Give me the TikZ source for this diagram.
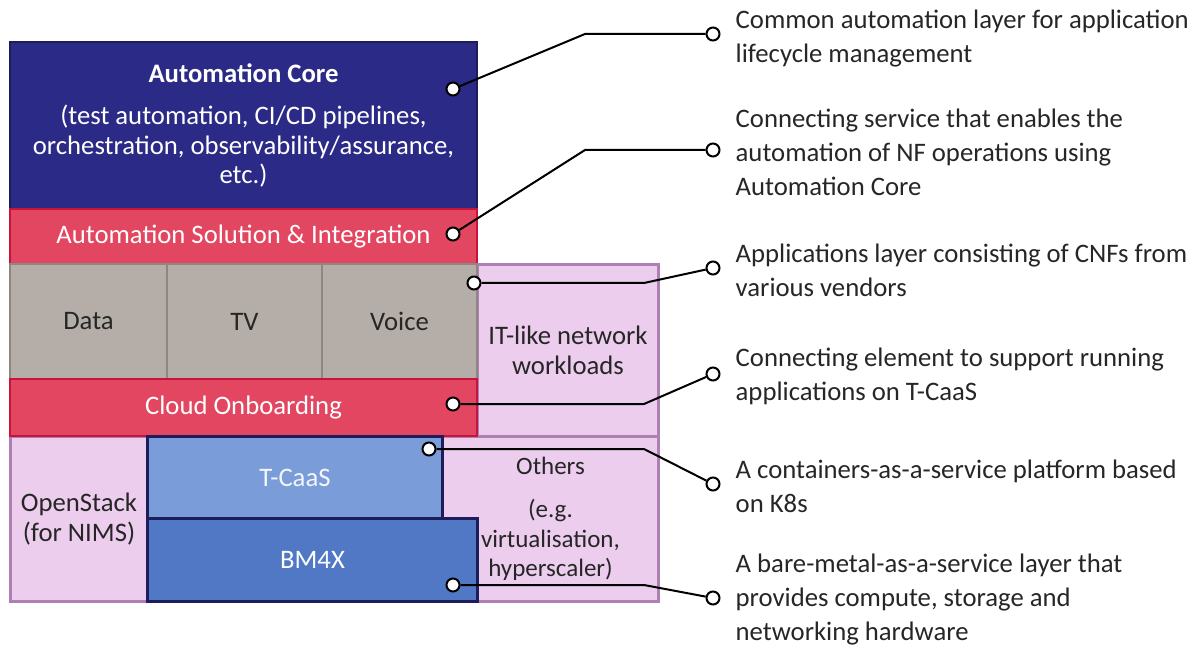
\documentclass[tikz,border=0pt]{standalone}
\usepackage{fontspec}
\setmainfont{Carlito}
\usepackage{tikz}
\usetikzlibrary{%
  positioning
 ,calc
}
\definecolor{corefill}{HTML}{2B2A86}
\definecolor{coreline}{HTML}{1E1D5C}
\definecolor{redfill}{HTML}{E34660}
\definecolor{redline}{HTML}{C8143A}
\definecolor{appfill}{HTML}{B5AEA8}
\definecolor{appline}{HTML}{8E8680}
\definecolor{wlfill}{HTML}{ECCDEE}
\definecolor{wlline}{HTML}{AD7FB3}
\definecolor{caasfill}{HTML}{7A9CD8}
\definecolor{bmfill}{HTML}{5078C4}
\definecolor{textgray}{HTML}{262626}

\tikzstyle{layer}=[rectangle,draw,line width=2pt,anchor=north west,inner sep=2pt,align=center,font=\fontsize{26.7}{29.5}\selectfont]
\tikzstyle{corebox}=[layer,fill=corefill,draw=coreline,text=white]
\tikzstyle{redbox}=[layer,fill=redfill,draw=redline,text=white]
\tikzstyle{appbox}=[layer,fill=appfill,draw=appline,text=textgray]
\tikzstyle{wlbox}=[layer,fill=wlfill,draw=wlline,line width=3pt,text=textgray]
\tikzstyle{caasbox}=[layer,fill=caasfill,draw=coreline,line width=3pt,text=white!90!caasfill]
\tikzstyle{bmbox}=[layer,fill=bmfill,draw=coreline,line width=3pt,text=white]
\tikzstyle{dot}=[circle,draw=black,fill=white,line width=2pt,inner sep=0pt,minimum size=13pt]
\tikzstyle{desc}=[align=left,anchor=west,text=textgray,inner sep=0pt,yshift=-2pt,font=\fontsize{26.7}{34}\selectfont]
\tikzstyle{lead}=[line width=2pt,black]

\begin{document}
\begin{tikzpicture}[x=1pt,y=-1pt]
  \useasboundingbox (0,0) rectangle (1200,647);
  % pink layers behind
  \node[wlbox,minimum width=181pt,minimum height=172pt] (itlike)    at (476,263) {IT-like network\\workloads};
  \node[wlbox,minimum width=216pt,minimum height=165pt,font=\fontsize{25}{29.5}\selectfont] (others) at (441,435)
    {Others\\[14pt](e.g.\\virtualisation,\\hyperscaler)};
  \node[wlbox,minimum width=137pt,minimum height=165pt] (openstack) at (9,435)   {OpenStack\\(for NIMS)};
% 
  \node[corebox,minimum width=467pt,minimum height=167pt] (core) at (9,41)
    {\textbf{Automation Core}\\[13pt](test automation, CI/CD pipelines,\\orchestration, observability/assurance,\\etc.)};
  \node[redbox,minimum width=467pt,minimum height=55pt]  (solution) at (9,208)  {Automation Solution \& Integration};
  \node[appbox,minimum width=157pt,minimum height=115pt] (data)     at (9,263)   {Data};
  \node[appbox,minimum width=155pt,minimum height=115pt] (tv)       at (166,263) {TV};
  \node[appbox,minimum width=155pt,minimum height=115pt] (voice)    at (321,263) {Voice};
  \node[redbox,minimum width=467pt,minimum height=57pt]  (onboard)  at (9,378)   {Cloud Onboarding};
  \node[caasbox,minimum width=295pt,minimum height=82pt] (tcaas)    at (146,435) {T-CaaS};
  \node[bmbox,minimum width=330pt,minimum height=83pt]   (bm4x)     at (146,517) {BM4X};
% dots on the layers
  \node[dot] (d1) at (453,89)  {};
  \node[dot] (d2) at (453,234) {};
  \node[dot] (d3) at (474,283) {};
  \node[dot] (d4) at (453,404) {};
  \node[dot] (d5) at (429,449) {};
  \node[dot] (d6) at (453,585) {};
% end circles and bends
  \foreach \i/\y in {1/34,2/150,3/268,4/374,5/484,6/598}
    \node[dot] (c\i) at (713,\y) {};
  \coordinate (b1) at (585,34);
  \coordinate (b2) at (585,150);
  \coordinate (b3) at (644,283);
  \coordinate (b4) at (644,404);
  \coordinate (b5) at (644,449);
  \coordinate (b6) at (644,585);
  \foreach \i in {1,...,6}
    \draw[lead] (d\i) -- (b\i) -- (c\i);
% descriptions
  \node[desc,right=15pt of c1,yshift=-3pt] (t1) {Common automation layer for application\\lifecycle management};
  \node[desc,right=15pt of c2] (t2) {Connecting service that enables the\\automation of NF operations using\\Automation Core};
  \node[desc,right=15pt of c3] (t3) {Applications layer consisting of CNFs from\\various vendors};
  \node[desc,right=15pt of c4] (t4) {Connecting element to support running\\applications on T-CaaS};
  \node[desc,right=15pt of c5] (t5) {A containers-as-a-service platform based\\on K8s};
  \node[desc,right=15pt of c6] (t6) {A bare-metal-as-a-service layer that\\provides compute, storage and\\networking hardware};
\end{tikzpicture}
\end{document}
